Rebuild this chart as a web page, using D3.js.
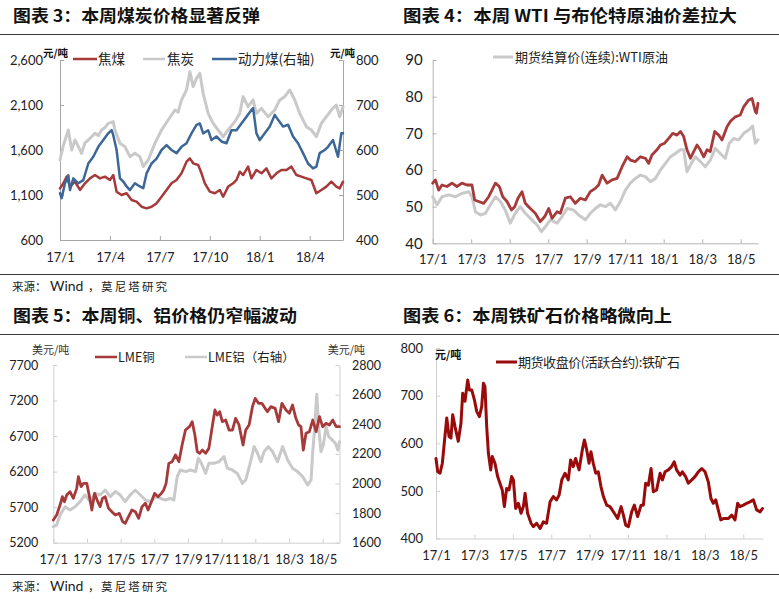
<!DOCTYPE html>
<html><head><meta charset="utf-8">
<script src="https://cdn.jsdelivr.net/npm/d3@7/dist/d3.min.js"></script>
<style>body{margin:0;background:#fff}svg{display:block}</style>
</head><body><svg id="c" width="779" height="599"></svg>
<script>
// ---------- DATA (x = months since Jan 2017) ----------
const titles = ["图表 3：本周煤炭价格显著反弹","图表 4：本周 WTI 与布伦特原油价差拉大","图表 5：本周铜、铝价格仍窄幅波动","图表 6：本周铁矿石价格略微向上"];

const coalTicks = [0,3,6,9,12,15];
const coalTickLabels = ["17/1","17/4","17/7","17/10","18/1","18/4"];
const biTicks = [0,2,4,6,8,10,12,14,16];
const biTickLabels = ["17/1","17/3","17/5","17/7","17/9","17/11","18/1","18/3","18/5"];

const coalLeftTicks = [600,1100,1600,2100,2600];
const coalRightTicks = [400,500,600,700,800];
const oilTicks = [40,50,60,70,80,90];
const copperTicks = [5200,5700,6200,6700,7200,7700];
const aluTicks = [1600,1800,2000,2200,2400,2600,2800];
const oreTicks = [400,500,600,700,800];

const coalNames = ["焦煤","焦炭","动力煤(右轴)"];
const oilNames = ["期货结算价(连续):WTI原油"];
const metalNames = ["LME铜","LME铝（右轴）"];
const oreNames = ["期货收盘价(活跃合约):铁矿石"];

const coke = [[0,1489],[0.2,1650],[0.5,1822],[0.7,1600],[0.9,1711],[1.1,1640],[1.3,1563],[1.5,1680],[1.7,1711],[2.1,1785],[2.3,1760],[2.5,1822],[2.7,1850],[2.9,1896],[3.2,1915],[3.3,1822],[3.6,1674],[3.9,1637],[4.2,1526],[4.5,1563],[4.8,1526],[5.0,1415],[5.3,1489],[5.7,1674],[6.1,1822],[6.5,1933],[6.9,2044],[7.1,2020],[7.3,2156],[7.6,2267],[7.8,2470],[8.0,2304],[8.2,2396],[8.4,2452],[8.6,2230],[8.9,2007],[9.2,1896],[9.5,1822],[9.8,1748],[10.1,1822],[10.5,1915],[10.8,2007],[11.0,2193],[11.3,2081],[11.6,2156],[11.8,2007],[12.1,2063],[12.5,1970],[12.9,2044],[13.2,2156],[13.5,2193],[13.8,2267],[14.1,2156],[14.4,2007],[14.8,1859],[15.1,1822],[15.4,1748],[15.7,1896],[16.0,1970],[16.3,2044],[16.6,2100],[16.8,1970],[17.0,2081]];

const steamCoal = [[0,504],[0.1,493],[0.3,526],[0.5,544],[0.6,511],[0.8,537],[1.1,526],[1.4,533],[1.7,570],[2.0,585],[2.3,607],[2.6,622],[2.9,637],[3.1,644],[3.2,633],[3.4,600],[3.6,537],[3.8,530],[4.0,519],[4.2,511],[4.5,526],[4.8,519],[5.0,515],[5.2,548],[5.5,570],[5.8,581],[6.1,600],[6.4,611],[6.7,600],[7.0,593],[7.3,607],[7.6,615],[7.9,637],[8.2,656],[8.4,659],[8.6,637],[8.9,644],[9.1,622],[9.4,630],[9.7,619],[10.0,615],[10.3,644],[10.6,644],[10.9,659],[11.2,674],[11.5,689],[11.6,693],[11.8,637],[12.0,622],[12.3,637],[12.6,652],[12.9,678],[13.1,667],[13.4,652],[13.7,656],[14.0,630],[14.3,615],[14.6,593],[14.9,570],[15.2,559],[15.4,563],[15.6,593],[15.9,600],[16.1,607],[16.4,622],[16.7,585],[16.9,637],[17.0,637]];

const cokingCoal = [[0,1174],[0.2,1230],[0.4,1304],[0.6,1193],[0.9,1248],[1.2,1156],[1.5,1230],[1.8,1285],[2.1,1322],[2.4,1285],[2.7,1304],[3.0,1267],[3.2,1322],[3.4,1137],[3.7,1100],[4.0,1119],[4.3,1044],[4.6,1026],[4.9,970],[5.2,952],[5.5,970],[5.8,1007],[6.1,1081],[6.4,1156],[6.7,1230],[7.0,1267],[7.3,1341],[7.6,1470],[7.8,1507],[8.0,1452],[8.3,1433],[8.5,1341],[8.7,1230],[9.0,1137],[9.3,1119],[9.6,1156],[9.8,1081],[10.1,1193],[10.4,1230],[10.6,1267],[10.8,1359],[11.0,1322],[11.3,1415],[11.5,1285],[11.8,1378],[12.1,1341],[12.4,1396],[12.7,1285],[13.0,1341],[13.3,1378],[13.6,1378],[13.9,1415],[14.2,1322],[14.5,1304],[14.8,1285],[15.1,1267],[15.4,1119],[15.7,1156],[16.0,1193],[16.3,1248],[16.6,1193],[16.8,1174],[17.0,1248]];

const brent = [[0,56.4],[0.14,57.3],[0.31,54.5],[0.48,55.9],[0.74,55.5],[1.0,56.4],[1.26,55.5],[1.52,56.4],[1.78,55.9],[2.04,55.9],[2.18,51.8],[2.39,51.4],[2.65,50.9],[2.91,52.7],[3.08,54.5],[3.26,56.4],[3.46,55.5],[3.64,52.7],[3.86,51.4],[4.09,49.1],[4.26,50.0],[4.43,52.3],[4.64,54.1],[4.81,50.9],[5.07,49.5],[5.33,48.2],[5.59,45.9],[5.82,47.3],[6.03,49.5],[6.2,46.8],[6.46,48.6],[6.63,48.2],[6.89,52.3],[7.15,52.7],[7.41,50.9],[7.67,52.3],[7.93,51.8],[8.19,54.1],[8.45,55.0],[8.62,55.9],[8.8,58.6],[9.06,56.4],[9.32,57.3],[9.58,57.7],[9.84,60.9],[10.1,63.6],[10.27,62.7],[10.53,62.3],[10.79,63.6],[11.05,63.2],[11.22,61.8],[11.39,64.1],[11.65,65.5],[11.83,66.8],[12.05,67.3],[12.26,68.6],[12.47,70.0],[12.69,69.5],[12.87,70.5],[13.04,69.1],[13.21,65.5],[13.39,63.2],[13.56,65.0],[13.73,66.8],[13.9,65.5],[14.08,63.6],[14.25,65.5],[14.42,65.0],[14.65,70.5],[14.86,69.5],[15.03,68.2],[15.29,71.8],[15.46,73.2],[15.72,74.5],[15.98,75.0],[16.16,77.3],[16.42,79.1],[16.59,79.5],[16.76,75.9],[16.82,75.5],[16.9,78.2]];

const wti = [[0,52.7],[0.23,50.5],[0.48,52.7],[0.83,53.2],[1.18,52.7],[1.52,53.6],[1.87,54.1],[2.04,52.7],[2.22,48.6],[2.48,47.7],[2.74,48.2],[3.0,50.5],[3.26,52.7],[3.52,51.4],[3.77,49.1],[4.03,45.5],[4.29,48.2],[4.55,50.0],[4.81,48.2],[5.16,46.4],[5.42,45.0],[5.65,43.2],[5.85,44.5],[6.11,46.4],[6.46,45.5],[6.72,47.3],[6.98,49.5],[7.32,49.1],[7.58,47.7],[7.93,46.4],[8.19,48.2],[8.45,49.5],[8.71,50.5],[8.97,50.0],[9.23,50.9],[9.49,49.1],[9.75,51.4],[10.01,54.5],[10.27,56.4],[10.53,57.7],[10.79,58.6],[11.05,58.2],[11.31,56.8],[11.57,57.7],[11.83,60.0],[12.09,61.8],[12.35,63.6],[12.61,64.5],[12.87,65.5],[13.04,65.5],[13.21,59.5],[13.39,61.4],[13.65,63.6],[13.9,62.3],[14.16,60.9],[14.42,62.7],[14.68,65.9],[14.94,64.5],[15.2,63.2],[15.41,67.3],[15.64,68.6],[15.9,68.2],[16.16,70.0],[16.42,70.9],[16.62,72.0],[16.76,67.3],[16.9,68.2]];

const copper = [[0,5519],[0.2,5590],[0.4,5730],[0.54,5847],[0.66,5777],[0.8,5871],[0.99,5918],[1.19,5824],[1.39,5965],[1.49,6129],[1.65,5988],[1.79,6035],[1.99,6035],[2.13,5871],[2.29,5660],[2.45,5894],[2.64,5777],[2.78,5707],[2.92,5824],[3.08,5847],[3.28,5683],[3.48,5636],[3.68,5590],[3.92,5613],[4.12,5496],[4.27,5472],[4.47,5566],[4.67,5660],[4.87,5636],[5.07,5543],[5.27,5707],[5.47,5754],[5.63,5660],[5.83,5777],[6.02,5894],[6.22,5847],[6.42,5894],[6.56,5941],[6.7,6035],[6.86,6316],[7.06,6340],[7.26,6434],[7.46,6340],[7.65,6574],[7.85,6785],[8.09,6832],[8.25,6903],[8.41,6715],[8.55,6481],[8.69,6457],[8.85,6504],[9.05,6457],[9.24,6527],[9.44,6832],[9.6,7067],[9.74,6996],[9.88,7043],[10.04,6903],[10.24,6926],[10.44,6785],[10.64,6785],[10.83,6950],[11.03,6856],[11.27,6574],[11.43,6785],[11.63,6856],[11.83,7114],[11.99,7231],[12.19,7161],[12.39,7161],[12.58,7090],[12.72,7043],[12.92,7114],[13.18,7090],[13.38,6903],[13.58,7161],[13.82,7067],[14.02,7020],[14.21,7137],[14.41,6950],[14.57,6856],[14.71,6832],[14.85,6504],[15.01,6739],[15.21,6762],[15.41,6926],[15.61,6762],[15.81,6973],[16.0,6832],[16.2,6879],[16.4,6856],[16.6,6926],[16.8,6832],[17.0,6832]];

const aluminium = [[0,1708],[0.2,1720],[0.4,1787],[0.7,1843],[0.99,1821],[1.29,1843],[1.59,1877],[1.89,1922],[2.19,1877],[2.49,1933],[2.78,1922],[3.08,1956],[3.38,1911],[3.68,1945],[3.98,1922],[4.27,1877],[4.57,1922],[4.87,1956],[5.17,1922],[5.47,1888],[5.77,1877],[6.06,1911],[6.36,1900],[6.66,1888],[6.96,1900],[7.16,1888],[7.36,2046],[7.55,2091],[7.85,2080],[8.15,2091],[8.45,2080],[8.61,2170],[8.75,2147],[9.05,2068],[9.24,2136],[9.54,2136],[9.84,2147],[10.14,2181],[10.34,2102],[10.64,2091],[10.93,2068],[11.23,2001],[11.43,2024],[11.67,2125],[11.93,2249],[12.13,2204],[12.33,2147],[12.52,2215],[12.78,2249],[13.02,2215],[13.32,2147],[13.62,2249],[13.92,2159],[14.21,2102],[14.51,2080],[14.81,2046],[15.11,1990],[15.31,2024],[15.41,2215],[15.51,2350],[15.65,2602],[15.77,2372],[15.9,2215],[16.04,2260],[16.2,2384],[16.36,2316],[16.56,2294],[16.76,2271],[16.9,2226],[17.0,2282]];

const ironOre = [[0,568],[0.09,540],[0.21,537],[0.33,558],[0.43,600],[0.56,653],[0.68,614],[0.78,611],[0.87,660],[0.99,635],[1.16,604],[1.3,642],[1.39,705],[1.51,688],[1.65,733],[1.74,712],[1.86,712],[2.0,691],[2.12,667],[2.26,656],[2.38,677],[2.47,726],[2.55,719],[2.64,635],[2.73,579],[2.85,544],[2.93,572],[3.07,558],[3.21,530],[3.33,516],[3.45,502],[3.56,467],[3.68,505],[3.8,502],[3.94,530],[4.03,523],[4.15,463],[4.29,474],[4.43,453],[4.55,467],[4.64,495],[4.77,453],[4.95,432],[5.07,425],[5.24,432],[5.42,421],[5.59,435],[5.76,432],[5.94,477],[6.11,488],[6.28,481],[6.41,491],[6.55,523],[6.72,537],[6.89,523],[7.01,565],[7.15,551],[7.27,568],[7.45,544],[7.62,586],[7.73,607],[7.85,586],[7.97,558],[8.07,582],[8.19,558],[8.32,537],[8.45,540],[8.59,509],[8.72,488],[8.89,470],[9.06,467],[9.29,453],[9.46,442],[9.64,467],[9.76,449],[9.88,428],[10.02,425],[10.19,456],[10.33,470],[10.5,446],[10.68,470],[10.8,470],[10.92,516],[11.06,512],[11.2,547],[11.32,498],[11.49,502],[11.67,537],[11.79,523],[11.93,540],[12.1,544],[12.27,551],[12.41,561],[12.53,544],[12.71,533],[12.83,540],[13.0,530],[13.14,516],[13.32,523],[13.49,530],[13.66,540],[13.84,547],[14.01,540],[14.18,519],[14.32,484],[14.44,474],[14.57,481],[14.7,460],[14.83,439],[15.0,442],[15.23,442],[15.4,449],[15.57,439],[15.71,474],[15.83,467],[16.01,470],[16.18,474],[16.35,477],[16.53,481],[16.7,460],[16.88,456],[17.0,463]];

// ---------- DRAWING ----------
const svg = d3.select('#c');
svg.append('rect').attr('width',779).attr('height',599).attr('fill','#fff');
const CJK = "'Noto Sans CJK SC','Noto Sans',sans-serif";
const NUM = "Lato,'Liberation Sans',sans-serif";
const AXC = '#b3b3b3';

// titles + rules
const titlePos = [[13,22,247],[403,22,334],[13,322,284],[403,322,269]];
titles.forEach((t,i)=>{
  svg.append('text').attr('x',titlePos[i][0]).attr('y',titlePos[i][1])
    .attr('textLength',titlePos[i][2]).attr('lengthAdjust','spacingAndGlyphs')
    .style('font-family',CJK).style('font-weight',700).style('font-size','16.5px').attr('fill','#111').text(t);
});
[34.5,274.5,334.5,574.5].forEach(y=>{
  svg.append('line').attr('x1',0).attr('x2',779).attr('y1',y).attr('y2',y).attr('stroke','#3a3a3a').attr('stroke-width',1);
});
function source(y){
  const g = svg.append('g').style('font-family',CJK).attr('fill','#222');
  g.append('text').attr('x',12).attr('y',y).style('font-size','11.5px').text('来源：');
  g.append('text').attr('x',50).attr('y',y).style('font-family',NUM).style('font-size','14px').text('Wind');
  g.append('text').attr('x',88).attr('y',y).style('font-size','11.5px').text('，');
  g.append('text').attr('x',101).attr('y',y).attr('textLength',66).style('font-size','11.5px').text('莫尼塔研究');
}
source(291); source(591);

function panel(o){
  const x = d3.scaleLinear().domain([0,o.xMax]).range([o.x0,o.x1]);
  const yL = d3.scaleLinear().domain(o.yL).range([o.yb,o.yt]);
  const yR = o.yR ? d3.scaleLinear().domain(o.yR).range([o.yb,o.yt]) : null;
  const styleAxis = (g,fs)=>{
    g.select('.domain').attr('stroke',o.axc||AXC);
    g.selectAll('.tick line').attr('stroke',o.axc||AXC);
    g.selectAll('text').style('font-family',NUM).style('font-size',fs).attr('fill','#222');
  };
  const gx = svg.append('g').attr('transform',`translate(0,${o.yb})`)
    .call(d3.axisBottom(x).tickValues(o.xTicks).tickFormat((d,i)=>o.xLabels[i]).tickSizeInner(-4).tickSizeOuter(0));
  styleAxis(gx,o.xfs||'13px');
  gx.selectAll('text').attr('y',o.xLabY).attr('dy',null);
  const gy = svg.append('g').attr('transform',`translate(${o.x0},0)`)
    .call(d3.axisLeft(yL).tickValues(o.yLTicks).tickFormat(o.fmtL).tickSizeInner(-4).tickSizeOuter(0).tickPadding(o.padL));
  styleAxis(gy,o.yfs||'13px');
  if(yR){
    const gr = svg.append('g').attr('transform',`translate(${o.x1},0)`)
      .call(d3.axisRight(yR).tickValues(o.yRTicks).tickFormat(o.fmtR).tickSizeInner(-4).tickSizeOuter(0).tickPadding(o.padR));
    styleAxis(gr,o.yfs||'13px');
  }
  o.series.forEach(s=>{
    const sc = s.right ? yR : yL;
    svg.append('path').datum(s.data)
      .attr('d',d3.line().x(d=>x(d[0])).y(d=>sc(d[1])))
      .attr('fill','none').attr('stroke',s.color).attr('stroke-width',s.w||2.5)
      .attr('stroke-linejoin','round').attr('stroke-linecap','round');
  });
}

const RED='#a63a3a', GRAY='#c9c9c9', BLUE='#3c6796', DRED='#990a0a';

// Panel 3 (coal)
panel({x0:60,x1:343,xMax:17,yb:240,yt:60,yL:[600,2600],yR:[400,800],
  xTicks:coalTicks,xLabels:coalTickLabels,xLabY:22,
  yLTicks:coalLeftTicks,yRTicks:coalRightTicks,fmtL:d3.format(','),fmtR:d3.format('d'),padL:17,padR:13,
  axc:'#a6a6a6',
  series:[{data:coke,color:GRAY,w:3},{data:cokingCoal,color:RED},{data:steamCoal,color:BLUE,right:true}]});
// units
[[43,'start'],[355,'end']].forEach(([xx,a])=>svg.append('text').attr('x',xx).attr('y',57).attr('text-anchor',a)
  .style('font-family',CJK).style('font-weight',700).style('font-size','10.5px').attr('fill','#111').text('元/吨'));
// legend
const coalLeg=[[73,97,98,RED],[143,165,167,GRAY],[212,237,238,BLUE]];
coalLeg.forEach((l,i)=>{
  svg.append('line').attr('x1',l[0]).attr('x2',l[1]).attr('y1',59).attr('y2',59).attr('stroke',l[3]).attr('stroke-width',2.5);
  svg.append('text').attr('x',l[2]).attr('y',64).style('font-family',CJK).style('font-size','13.5px').attr('fill','#222').text(coalNames[i]);
});

// Panel 4 (oil)
panel({x0:432.7,x1:758,xMax:16.9,yb:243.3,yt:60,yL:[40,90],
  xTicks:biTicks,xLabels:biTickLabels,xLabY:21,
  yLTicks:oilTicks,fmtL:d3.format('d'),padL:10,yfs:'15px',
  series:[{data:wti,color:GRAY,w:3},{data:brent,color:RED,w:2.8}]});
svg.append('line').attr('x1',493).attr('x2',513).attr('y1',57).attr('y2',57).attr('stroke',GRAY).attr('stroke-width',3);
svg.append('text').attr('x',515).attr('y',62).attr('textLength',153).style('font-family',CJK).style('font-size','13px').attr('fill','#222').text(oilNames[0]);

// Panel 5 (metals)
panel({x0:53.3,x1:339.5,xMax:17,yb:542.7,yt:365,yL:[5200,7700],yR:[1600,2800],
  xTicks:biTicks,xLabels:biTickLabels,xLabY:21,
  yLTicks:copperTicks,yRTicks:aluTicks,fmtL:d3.format('d'),fmtR:d3.format('d'),padL:15,padR:12.5,yfs:'12.5px',
  axc:'#cfcfcf',
  series:[{data:aluminium,color:GRAY,w:3,right:true},{data:copper,color:RED,w:2.8}]});
[[32,'start'],[365,'end']].forEach(([xx,a])=>svg.append('text').attr('x',xx).attr('y',354).attr('text-anchor',a)
  .style('font-family',CJK).style('font-size','11px').attr('fill','#333').text('美元/吨'));
const metLeg=[[95,117,118,RED],[185,207,208,GRAY]];
metLeg.forEach((l,i)=>{
  svg.append('line').attr('x1',l[0]).attr('x2',l[1]).attr('y1',357).attr('y2',357).attr('stroke',l[3]).attr('stroke-width',2.5);
  svg.append('text').attr('x',l[2]).attr('y',362).style('font-family',CJK).style('font-size','12.5px').attr('fill','#222').text(metalNames[i]);
});

// Panel 6 (iron ore)
panel({x0:436,x1:763,xMax:17.03,yb:538.5,yt:348,yL:[400,800],
  xTicks:biTicks,xLabels:biTickLabels,xLabY:21,
  yLTicks:oreTicks,fmtL:d3.format('d'),padL:13,yfs:'13px',axc:'#d0d0d0',
  series:[{data:ironOre,color:DRED,w:3}]});
svg.append('text').attr('x',435).attr('y',359).style('font-family',CJK).style('font-weight',700).style('font-size','11px').attr('fill','#111').text('元/吨');
svg.append('line').attr('x1',496).attr('x2',517).attr('y1',362).attr('y2',362).attr('stroke',DRED).attr('stroke-width',3);
svg.append('text').attr('x',518).attr('y',367).attr('textLength',162).style('font-family',CJK).style('font-size','13px').attr('fill','#222').text(oreNames[0]);
</script></body></html>
